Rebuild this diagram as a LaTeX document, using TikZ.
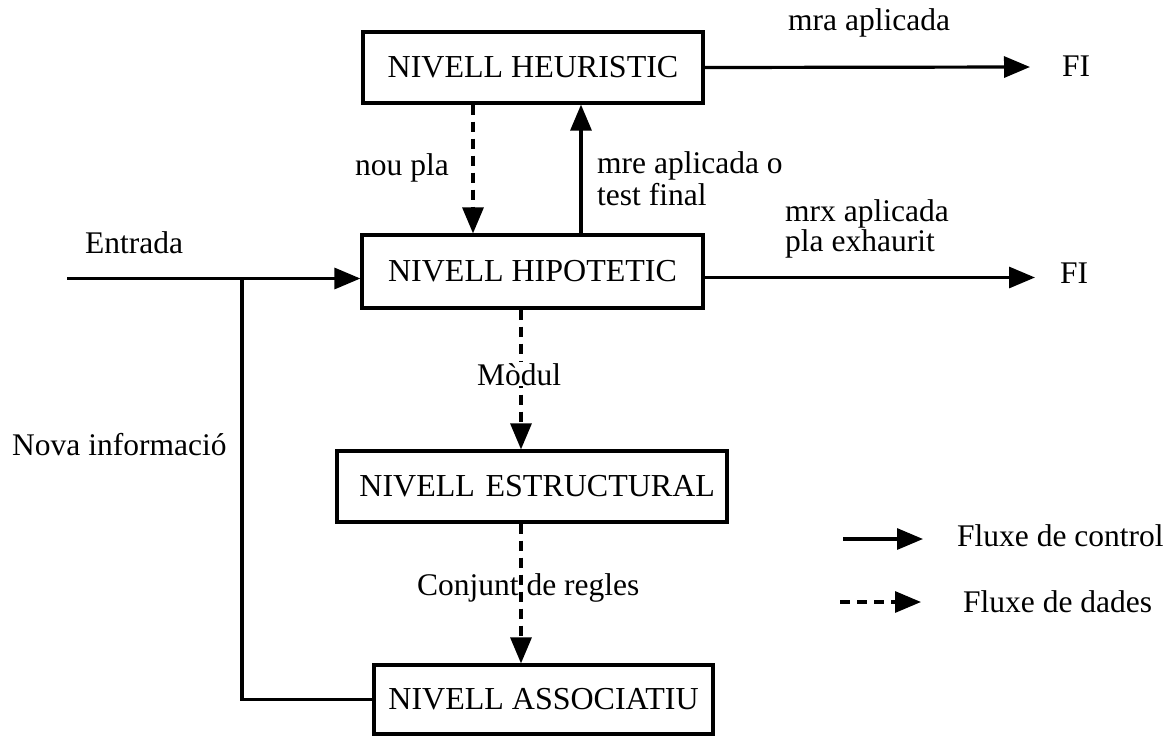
\documentclass[tikz,border=0pt]{standalone}
\usepackage{fontspec}
\setmainfont{Liberation Serif}
\usetikzlibrary{arrows.meta}
\tikzset{
  box/.style={draw, line width=3.2pt, font=\fontsize{32}{38}\selectfont, inner sep=0pt},
  lbl/.style={font=\fontsize{31.5}{36}\selectfont, inner sep=0pt},
  wire/.style={line width=3.2pt},
  ctrl/.style={wire, -{Triangle[length=26pt,width=21pt]}},
  dataflow/.style={ctrl, dash pattern=on 10pt off 7pt},
}
\begin{document}
\begin{tikzpicture}[x=1pt,y=-1pt]
\useasboundingbox (0,0) rectangle (1171,737);

% the four levels
\node[box, minimum width=340pt, minimum height=71pt] (heur)  at (533,67.5)  {NIVELL HEURISTIC};
\node[box, minimum width=341pt, minimum height=73pt] (hip)   at (532.5,271.5) {NIVELL HIPOTETIC};
\node[box, minimum width=390pt, minimum height=71pt, text width=366pt, align=right] (estr)  at (532,486.5) {NIVELL ESTRUCTURAL};
\node[box, minimum width=339pt, minimum height=69pt] (assoc) at (543.5,699.5) {NIVELL ASSOCIATIU};

% exits and entry points
\coordinate (fiA) at (1030,67);
\coordinate (fiB) at (1035,277.5);
\coordinate (entry) at (67,278.5);
\coordinate (junc) at (242,278.5);
\node[lbl, anchor=base west] (fi1) at (1062,76) {FI};
\node[lbl, anchor=base west] (fi2) at (1060,283) {FI};

% control flow
\draw[ctrl] (heur.east) -- (fiA);
\draw[ctrl] (hip.east |- fiB) -- (fiB);
\draw[ctrl] (entry) -- (entry -| hip.west);
\draw[ctrl] ([xshift=48pt]heur.south |- hip.north) -- ([xshift=48pt]heur.south);
\draw[wire] (junc) |- (assoc.west);

% data flow
\draw[dataflow] ([xshift=-60pt]heur.south) -- ([xshift=-60pt]heur.south |- hip.north);
\draw[dataflow] ([xshift=-11.5pt]hip.south) -- ([xshift=-11.5pt]hip.south |- estr.north);
\draw[dataflow] ([xshift=-11pt]estr.south) -- ([xshift=-11pt]estr.south |- assoc.north);

% labels
\node[lbl, anchor=base west] (mra)  at (788,30)  {mra aplicada};
\node[lbl, anchor=base west] (nou)  at (355,175) {nou pla};
\node[lbl, anchor=base west] (mre1) at (597,173) {mre aplicada o};
\node[lbl, anchor=base west] (mre2) at (597,205) {test final};
\node[lbl, anchor=base west] (mrx1) at (785,221) {mrx aplicada};
\node[lbl, anchor=base west] (mrx2) at (785,251) {pla exhaurit};
\node[lbl, anchor=base west] (ent)  at (85,253)  {Entrada};
\node[lbl, anchor=base west] (nova) at (12,455)  {Nova informació};
\node[lbl, anchor=base west, fill=white, inner ysep=1pt] (mod) at (477,385) {Mòdul};
\node[lbl, anchor=base west] (conj) at (417,595) {Conjunt de regles};

% legend
\coordinate (legA1) at (843,539);
\coordinate (legA2) at (923,539);
\coordinate (legB1) at (840,602);
\coordinate (legB2) at (921,602);
\draw[ctrl] (legA1) -- (legA2);
\draw[dataflow] (legB1) -- (legB2);
\node[lbl, anchor=base west] (legctrl) at (957,546) {Fluxe de control};
\node[lbl, anchor=base west] (legdata) at (963,612) {Fluxe de dades};
\end{tikzpicture}
\end{document}
